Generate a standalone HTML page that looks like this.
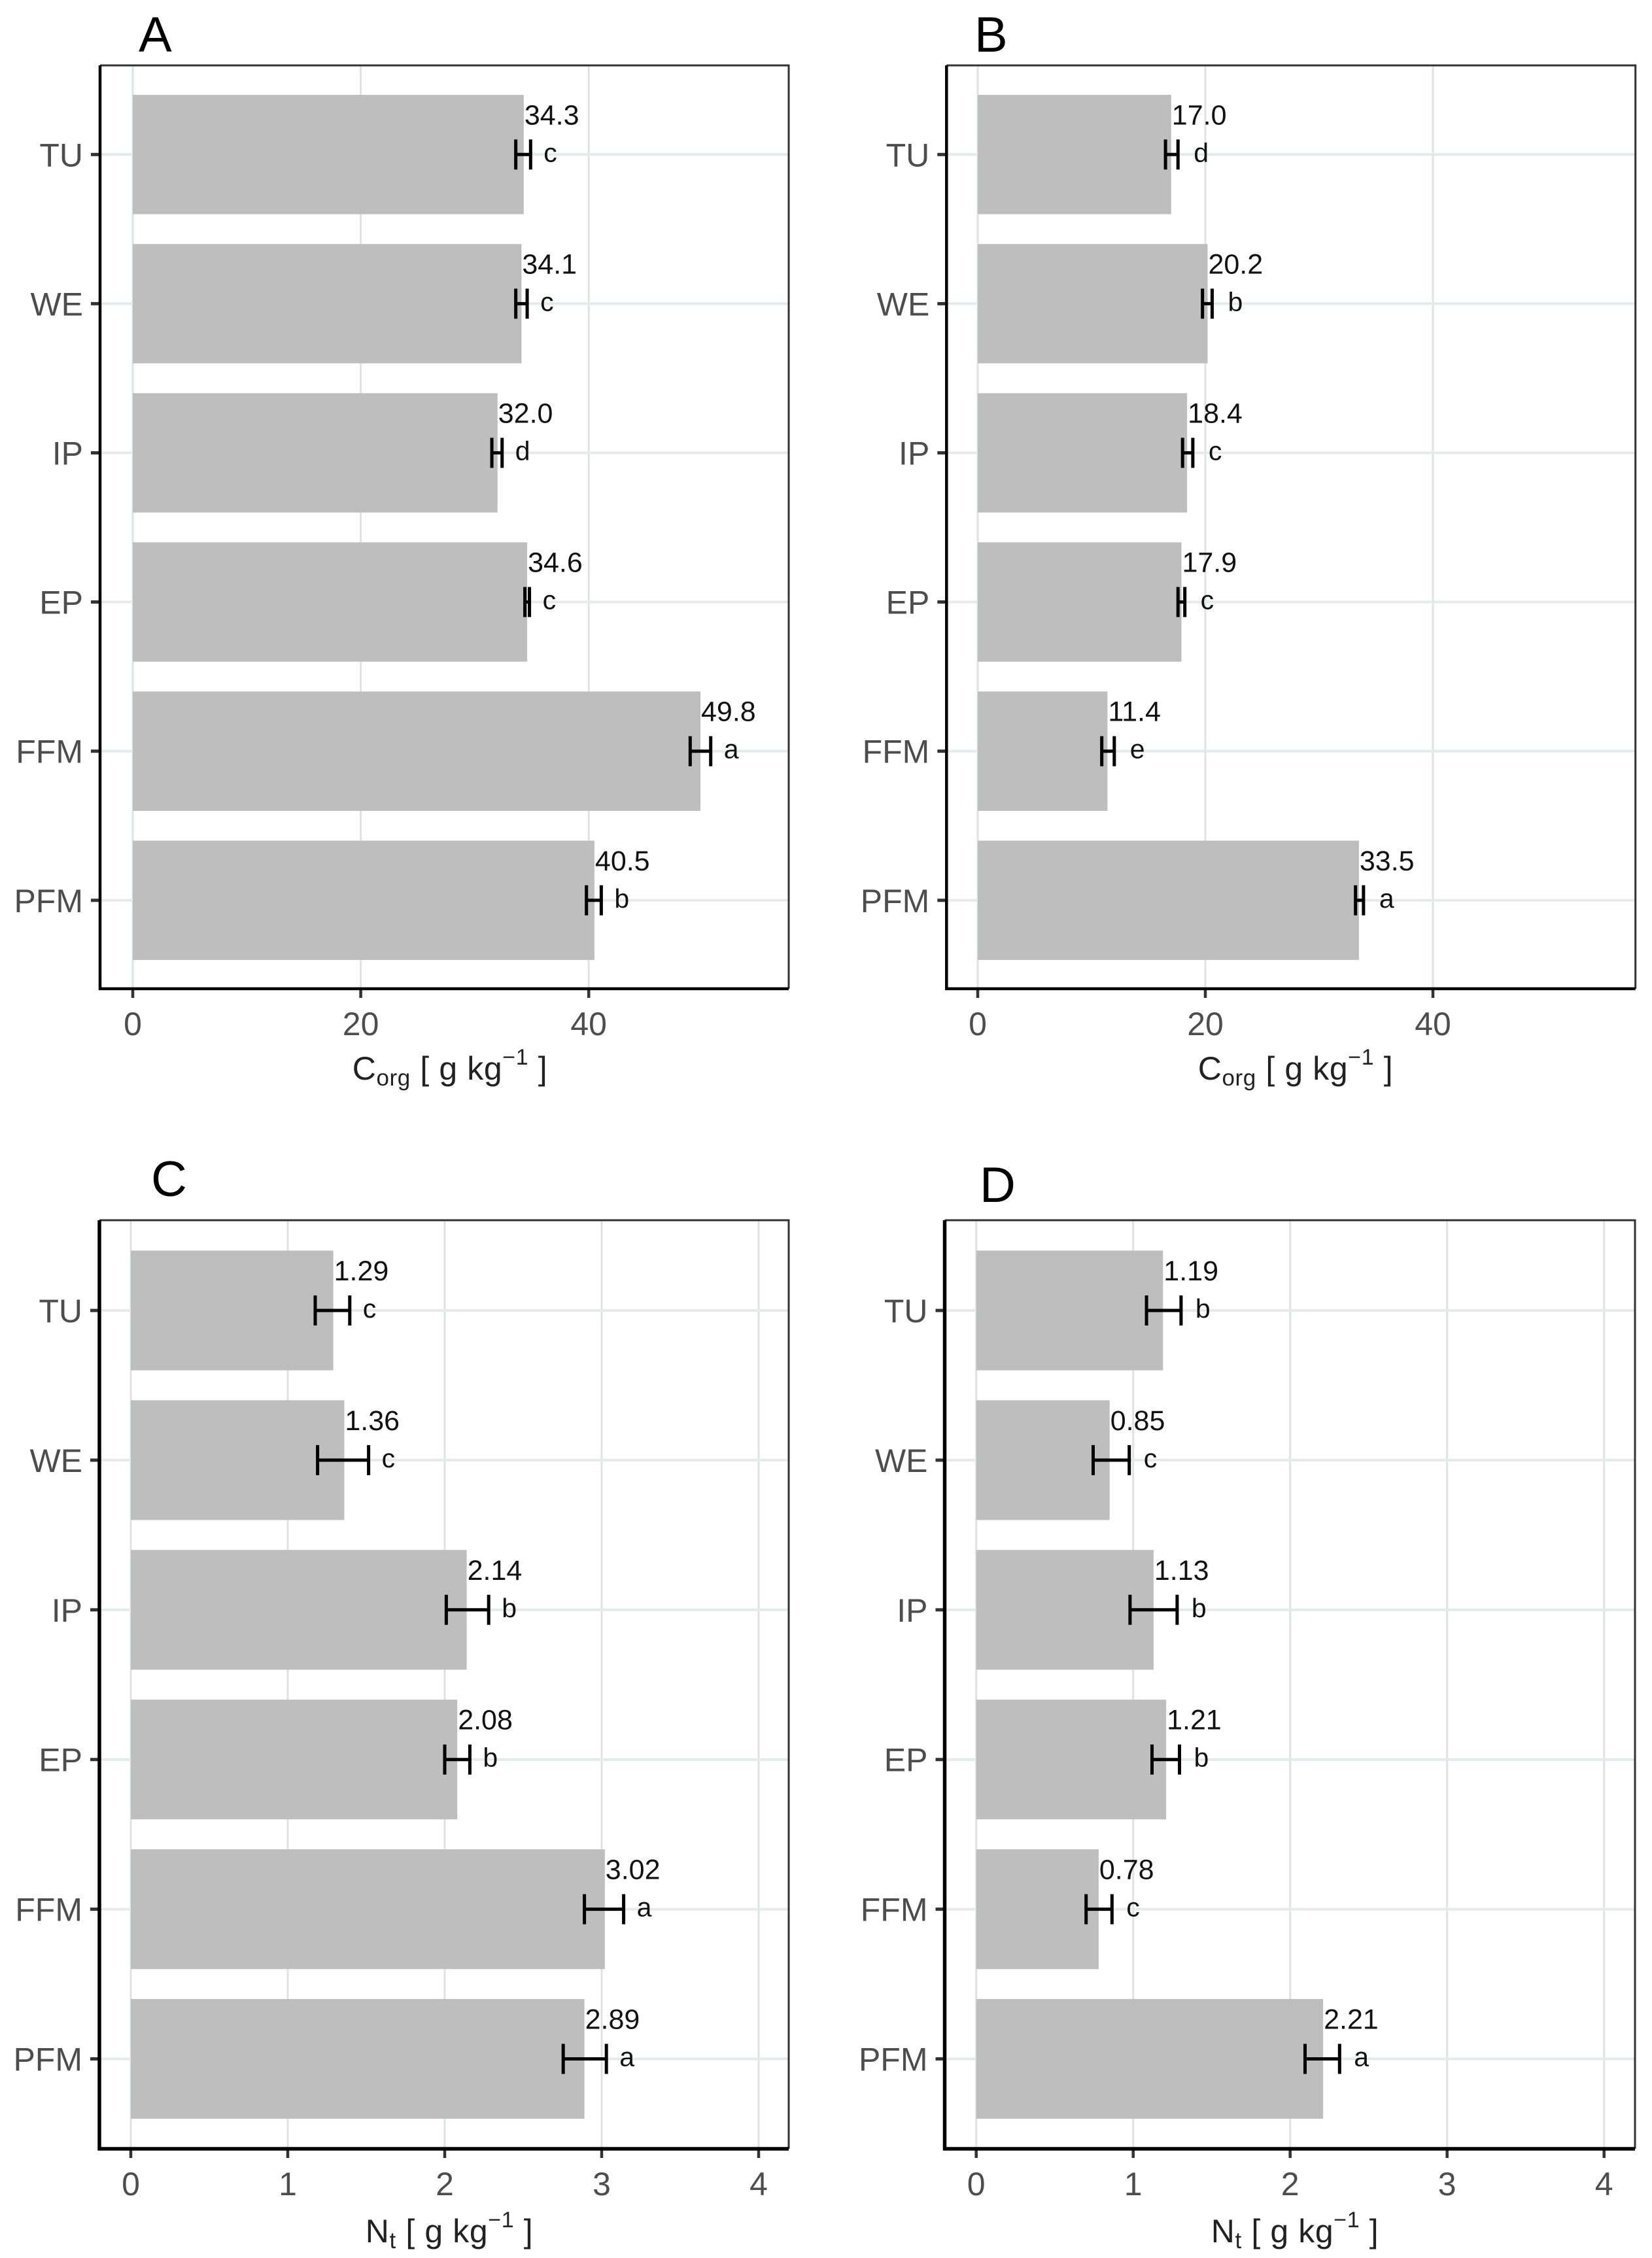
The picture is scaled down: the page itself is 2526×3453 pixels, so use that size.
<!DOCTYPE html>
<html lang="en">
<head>
<meta charset="utf-8">
<title>Corg and Nt bar charts</title>
<style>
html,body{margin:0;padding:0;background:#fff;}
svg{display:block;font-family:"Liberation Sans",Arial,sans-serif;}
</style>
</head>
<body>
<svg id="chart" xmlns="http://www.w3.org/2000/svg" width="2526" height="3453" viewBox="0 0 2526 3453">
<rect x="0" y="0" width="2526" height="3453" fill="#ffffff"/>
</svg>
<script>
const categories = ["TU", "WE", "IP", "EP", "FFM", "PFM"];

const carbonTicks = [0, 20, 40];
const nitrogenTicks = [0, 1, 2, 3, 4];

const meansA = [34.3, 34.1, 32.0, 34.6, 49.8, 40.5];
const lowerA = [33.6, 33.6, 31.5, 34.4, 48.9, 39.8];
const upperA = [34.9, 34.6, 32.4, 34.8, 50.7, 41.1];
const lettersA = ["c", "c", "d", "c", "a", "b"];

const meansB = [17.0, 20.2, 18.4, 17.9, 11.4, 33.5];
const lowerB = [16.5, 19.75, 18.0, 17.6, 10.9, 33.2];
const upperB = [17.6, 20.6, 18.9, 18.2, 12.0, 33.9];
const lettersB = ["d", "b", "c", "c", "e", "a"];

const meansC = [1.29, 1.36, 2.14, 2.08, 3.02, 2.89];
const lowerC = [1.175, 1.19, 2.01, 2.0, 2.89, 2.755];
const upperC = [1.395, 1.515, 2.28, 2.16, 3.14, 3.03];
const lettersC = ["c", "c", "b", "b", "a", "a"];

const meansD = [1.19, 0.85, 1.13, 1.21, 0.78, 2.21];
const lowerD = [1.085, 0.745, 0.98, 1.12, 0.70, 2.095];
const upperD = [1.305, 0.975, 1.28, 1.295, 0.865, 2.315];
const lettersD = ["b", "c", "b", "b", "c", "a"];

const svgNS = "http://www.w3.org/2000/svg";
const root = document.getElementById("chart");

function make(parent, tag, attrs, text) {
  const el = document.createElementNS(svgNS, tag);
  for (const k in attrs) el.setAttribute(k, attrs[k]);
  if (text !== undefined) el.textContent = text;
  parent.appendChild(el);
  return el;
}

function drawPanel(cfg) {
  const xScale = v => cfg.x0 + v * cfg.unit;
  const yScale = i => cfg.firstCat + i * cfg.step;
  const barH = cfg.step * 0.8;

  const g = make(root, "g", {});
  
  

  const letter = make(g, "text", { x: cfg.letterX, y: cfg.letterY, "font-size": 76, fill: "#000" }, cfg.id);
  
  

  cfg.ticks.forEach(t => {
    const grid = make(g, "line", { x1: xScale(t), x2: xScale(t), y1: cfg.top, y2: cfg.bottom, stroke: "#dbe5e3", "stroke-width": 3 });
    
    
  });
  categories.forEach((c, i) => {
    const grid = make(g, "line", { x1: cfg.left, x2: cfg.right, y1: yScale(i), y2: yScale(i), stroke: "#e4ecea", "stroke-width": 4 });
    
    
  });

  categories.forEach((c, i) => {
    const bar = make(g, "rect", { x: xScale(0), y: yScale(i) - barH / 2, width: xScale(cfg.means[i]) - xScale(0), height: barH, fill: "#bebebe" });
    
    

    const err = make(g, "path", {
      d: "M" + xScale(cfg.lower[i]) + " " + (yScale(i) - 23) + "V" + (yScale(i) + 23) +
         "M" + xScale(cfg.lower[i]) + " " + yScale(i) + "H" + xScale(cfg.upper[i]) +
         "M" + xScale(cfg.upper[i]) + " " + (yScale(i) - 23) + "V" + (yScale(i) + 23),
      fill: "none", stroke: "#000", "stroke-width": 5
    });
    
    

    const val = make(g, "text", { x: xScale(cfg.means[i]) + 1, y: yScale(i) - 46, "font-size": 43, fill: "#111" }, cfg.means[i].toFixed(cfg.decimals));
    
    

    const sig = make(g, "text", { x: xScale(cfg.upper[i]) + cfg.sigOffset, y: yScale(i) + 11, "font-size": 41, fill: "#111" }, cfg.letters[i]);
    
    

    const tick = make(g, "line", { x1: cfg.left - 14, x2: cfg.left, y1: yScale(i), y2: yScale(i), stroke: "#333", "stroke-width": 5 });
    
    

    const lab = make(g, "text", { x: cfg.left - 26, y: yScale(i) + 18, "font-size": 50, "text-anchor": "end", fill: "#4d4d4d" }, c);
    
    
  });

  cfg.ticks.forEach(t => {
    const tick = make(g, "line", { x1: xScale(t), x2: xScale(t), y1: cfg.bottom, y2: cfg.bottom + 14, stroke: "#333", "stroke-width": 4.5 });
    
    

    const lab = make(g, "text", { x: xScale(t), y: cfg.bottom + 71, "font-size": 50, "text-anchor": "middle", fill: "#4d4d4d" }, String(t));
    
    
  });

  const frame = make(g, "path", {
    d: "M" + cfg.left + " " + cfg.top + "H" + cfg.right + "V" + cfg.bottom,
    fill: "none", stroke: "#333", "stroke-width": 3
  });
  
  

  const axes = make(g, "path", {
    d: "M" + cfg.left + " " + cfg.top + "V" + cfg.bottom + "H" + cfg.right,
    fill: "none", stroke: "#000", "stroke-width": cfg.axisWidth
  });
  
  

  const title = make(g, "text", { x: cfg.titleX, y: cfg.titleY, "font-size": 50, fill: "#222", "text-anchor": "middle", "letter-spacing": 0.6, "xml:space": "preserve" });
  
  
  make(title, "tspan", {}, cfg.titleMain);
  make(title, "tspan", { "font-size": 35, dy: 9 }, cfg.titleSub);
  make(title, "tspan", { dy: -9 }, " [ g kg");
  make(title, "tspan", { "font-size": 34, dy: -23 }, "\u22121");
  make(title, "tspan", { dy: 23 }, " ]");
}

const carbonTitle = { titleMain: "C", titleSub: "org" };
const nitrogenTitle = { titleMain: "N", titleSub: "t" };

drawPanel(Object.assign({ id: "A", means: meansA, lower: lowerA, upper: upperA, letters: lettersA, ticks: carbonTicks, decimals: 1,
  left: 153, right: 1206, top: 100, bottom: 1512, x0: 203, unit: 17.43, firstCat: 236.3, step: 228.1, axisWidth: 4.5, sigOffset: 20,
  letterX: 212, letterY: 79, titleX: 688, titleY: 1651 }, carbonTitle));

drawPanel(Object.assign({ id: "B", means: meansB, lower: lowerB, upper: upperB, letters: lettersB, ticks: carbonTicks, decimals: 1,
  left: 1447.3, right: 2500.7, top: 100, bottom: 1512, x0: 1495, unit: 17.4, firstCat: 236.3, step: 228.1, axisWidth: 4.5, sigOffset: 24,
  letterX: 1490, letterY: 79, titleX: 1981, titleY: 1651 }, carbonTitle));

drawPanel(Object.assign({ id: "C", means: meansC, lower: lowerC, upper: upperC, letters: lettersC, ticks: nitrogenTicks, decimals: 2,
  left: 152, right: 1206, top: 1866, bottom: 3286, x0: 200, unit: 240, firstCat: 2004, step: 228.9, axisWidth: 5.5, sigOffset: 20,
  letterX: 231, letterY: 1829, titleX: 687, titleY: 3429 }, nitrogenTitle));

drawPanel(Object.assign({ id: "D", means: meansD, lower: lowerD, upper: upperD, letters: lettersD, ticks: nitrogenTicks, decimals: 2,
  left: 1444.5, right: 2500, top: 1866, bottom: 3286, x0: 1492.7, unit: 240, firstCat: 2004, step: 228.9, axisWidth: 5.5, sigOffset: 22,
  letterX: 1498, letterY: 1838, titleX: 1980, titleY: 3429 }, nitrogenTitle));
</script>
</body>
</html>
